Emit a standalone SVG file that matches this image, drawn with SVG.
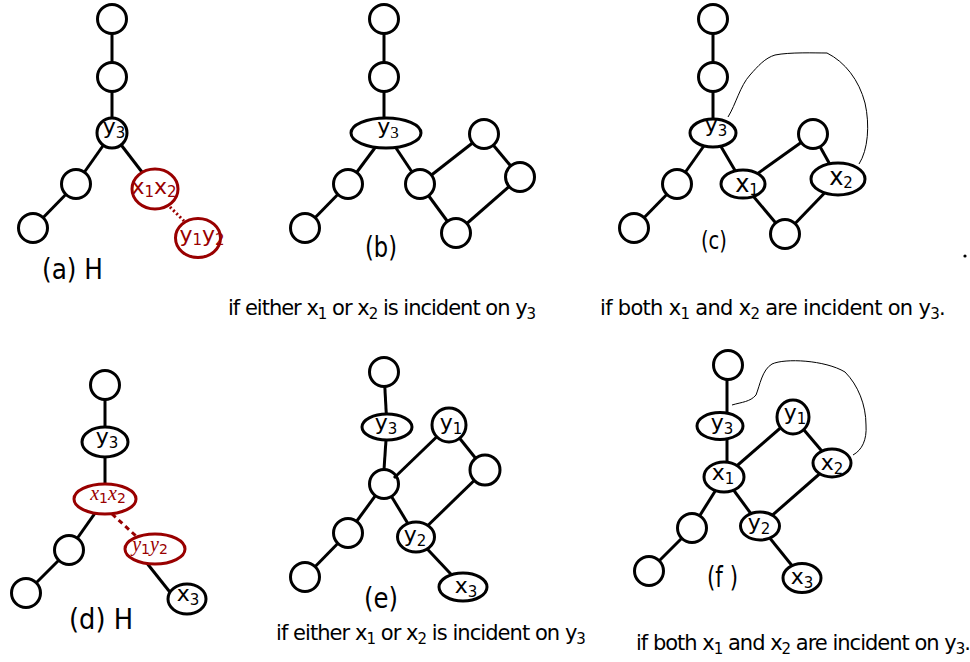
<svg xmlns="http://www.w3.org/2000/svg" width="970" height="662" viewBox="0 0 970 662">
<style>
.n{fill:#fff;stroke:#000;stroke-width:3}
.nn{fill:none;stroke:#000;stroke-width:3}
.r{fill:#fff;stroke:#900;stroke-width:3}
.e{stroke:#000;stroke-width:3;fill:none}
.c{stroke:#000;stroke-width:1;fill:none}
.rd{stroke:#900;stroke-width:3;fill:none}
.t{font-family:"DejaVu Sans",sans-serif;font-size:22px;text-anchor:middle;fill:#000}
.tr{fill:#900}
.m{font-family:"Liberation Serif",serif;font-style:italic;font-size:20px;text-anchor:middle;fill:#900}
.s{font-size:15px}
.ms{font-family:"DejaVu Sans",sans-serif;font-style:normal;font-size:14px}
.p{font-family:"DejaVu Sans",sans-serif;font-size:28px;fill:#000}
.cap{font-family:"DejaVu Sans",sans-serif;font-size:21px;fill:#000}
.cs{font-size:15px}
</style>
<g id="connectors">
<line class="e" x1="112" y1="19" x2="112" y2="77"/>
<line class="e" x1="112" y1="77" x2="112" y2="133"/>
<line class="e" x1="112" y1="133" x2="76" y2="184"/>
<line class="e" x1="76" y1="184" x2="33" y2="228"/>
<line class="e" x1="112" y1="133" x2="155" y2="189"/>
<line class="rd" x1="170" y1="207" x2="184" y2="221" stroke-dasharray="2 2.5"/>
<line class="e" x1="384" y1="19" x2="384" y2="133"/>
<line class="e" x1="386" y1="133" x2="348" y2="184"/>
<line class="e" x1="348" y1="184" x2="305" y2="228"/>
<line class="e" x1="386" y1="133" x2="420" y2="184"/>
<line class="e" x1="420" y1="184" x2="484" y2="134"/>
<line class="e" x1="484" y1="134" x2="520" y2="177"/>
<line class="e" x1="520" y1="177" x2="456" y2="233"/>
<line class="e" x1="456" y1="233" x2="420" y2="184"/>
<line class="e" x1="713" y1="19" x2="713" y2="133"/>
<line class="e" x1="713" y1="133" x2="677" y2="184"/>
<line class="e" x1="677" y1="184" x2="634" y2="228"/>
<line class="e" x1="713" y1="133" x2="743" y2="184"/>
<line class="e" x1="743" y1="184" x2="813" y2="134"/>
<line class="e" x1="813" y1="134" x2="838" y2="179"/>
<line class="e" x1="838" y1="179" x2="785" y2="234"/>
<line class="e" x1="785" y1="234" x2="743" y2="184"/>
<path class="c" d="M728,117 C736,104 740,86 750,75 C758,66 765,58 775,55 C790,52 815,53 827,53 C845,62 859,80 865,103 C870,125 868,150 859,164"/>
<line class="e" x1="105" y1="385" x2="105" y2="499"/>
<line class="e" x1="105" y1="499" x2="69" y2="550"/>
<line class="e" x1="69" y1="550" x2="26" y2="593"/>
<line class="rd" x1="112" y1="514" x2="136" y2="536" stroke-dasharray="5 4"/>
<line class="e" x1="146" y1="562" x2="173" y2="596"/>
<line class="e" x1="384" y1="372" x2="387" y2="427"/>
<line class="e" x1="386" y1="440" x2="384" y2="469.5"/>
<line class="e" x1="394" y1="478" x2="449" y2="425"/>
<line class="e" x1="375.4" y1="495.7" x2="348" y2="533"/>
<line class="e" x1="348" y1="533" x2="305" y2="577"/>
<line class="e" x1="391.5" y1="496.4" x2="416" y2="537"/>
<line class="e" x1="449" y1="425" x2="485" y2="470"/>
<line class="e" x1="485" y1="470" x2="416" y2="537"/>
<line class="e" x1="416" y1="537" x2="463" y2="587"/>
<line class="e" x1="727" y1="365" x2="727" y2="477"/>
<line class="e" x1="724" y1="477" x2="793" y2="417"/>
<line class="e" x1="724" y1="477" x2="692" y2="528"/>
<line class="e" x1="692" y1="528" x2="649" y2="571"/>
<line class="e" x1="724" y1="477" x2="760" y2="526"/>
<line class="e" x1="793" y1="417" x2="832" y2="463"/>
<line class="e" x1="832" y1="463" x2="760" y2="526"/>
<line class="e" x1="760" y1="526" x2="802" y2="578"/>
<path class="c" d="M732,405 C742,402 750,402 756,395 C760,385 762,370 772,364 C785,358 825,360 845,372 C858,385 866,405 866,425 C867,440 862,450 853,455"/>
</g>
<g id="a1"><circle class="n" cx="112" cy="19" r="14.5"/></g>
<g id="a2"><circle class="n" cx="112" cy="77" r="14.5"/></g>
<g id="a-y3"><circle class="n" cx="112" cy="133" r="15"/><text class="t" x="114" y="134">y<tspan class="s" dy="4">3</tspan></text></g>
<g id="a-l"><circle class="n" cx="76" cy="184" r="14.5"/></g>
<g id="a-bl"><circle class="n" cx="33" cy="228" r="14.5"/></g>
<g id="a-x1x2"><ellipse class="r" cx="155" cy="189" rx="23" ry="20"/><text class="t tr" x="154" y="194">x<tspan class="s" dy="3">1</tspan><tspan dy="-3">x</tspan><tspan class="s" dy="3">2</tspan></text></g>
<g id="a-y1y2"><ellipse class="r" cx="198" cy="238" rx="22.5" ry="19.5"/><text class="t tr" x="202" y="242">y<tspan class="s" dy="3">1</tspan><tspan dy="-3">y</tspan><tspan class="s" dy="3">2</tspan></text></g>
<text class="p" x="42" y="279" textLength="61" lengthAdjust="spacingAndGlyphs">(a) H</text>
<g id="b1"><circle class="n" cx="384" cy="19" r="14.5"/></g>
<g id="b2"><circle class="n" cx="384" cy="77" r="14.5"/></g>
<g id="b-y3"><ellipse class="n" cx="386" cy="133" rx="35" ry="15"/><text class="t" x="388" y="134">y<tspan class="s" dy="4" style="font-family:'Liberation Serif',serif;font-size:17px">3</tspan></text></g>
<g id="b-l"><circle class="n" cx="348" cy="184" r="14.5"/></g>
<g id="b-bl"><circle class="n" cx="305" cy="228" r="14.5"/></g>
<g id="b-x"><circle class="n" cx="420" cy="184" r="14.5"/></g>
<g id="b-tr"><circle class="n" cx="484" cy="134" r="14.5"/></g>
<g id="b-r"><circle class="n" cx="520" cy="177" r="14.5"/></g>
<g id="b-b"><circle class="n" cx="456" cy="233" r="14.5"/></g>
<text class="p" x="365" y="257" textLength="32" lengthAdjust="spacingAndGlyphs">(b)</text>
<g id="c1"><circle class="n" cx="713" cy="19" r="14.5"/></g>
<g id="c2"><circle class="n" cx="713" cy="77" r="14.5"/></g>
<g id="c-y3"><ellipse class="n" cx="713" cy="133" rx="23" ry="14"/><text class="t" x="716" y="132">y<tspan class="s" dy="4">3</tspan></text></g>
<g id="c-l"><circle class="n" cx="677" cy="184" r="14.5"/></g>
<g id="c-bl"><circle class="n" cx="634" cy="228" r="14.5"/></g>
<g id="c-x1"><ellipse class="n" cx="743" cy="184" rx="22" ry="14"/><text class="t" x="747" y="192" style="font-size:24px">x<tspan class="s" dy="3">1</tspan></text></g>
<g id="c-t"><circle class="n" cx="813" cy="134" r="14.5"/></g>
<g id="c-x2"><ellipse class="n" cx="838" cy="179" rx="27" ry="16"/><text class="t" x="841" y="185" style="font-size:24px">x<tspan class="s" dy="3">2</tspan></text></g>
<g id="c-b"><circle class="n" cx="785" cy="234" r="14.5"/></g>
<text class="p" x="701" y="249" textLength="26" lengthAdjust="spacingAndGlyphs" style="font-size:25px">(c)</text>
<circle cx="965" cy="256" r="1.6" fill="#000"/>
<text class="cap" x="228" y="315" letter-spacing="-1">if either x<tspan class="cs" dy="4">1</tspan><tspan dy="-4"> or x</tspan><tspan class="cs" dy="4">2</tspan><tspan dy="-4"> is incident on y</tspan><tspan class="cs" dy="4">3</tspan></text>
<text class="cap" x="600" y="315" letter-spacing="-0.7">if both x<tspan class="cs" dy="4">1</tspan><tspan dy="-4"> and x</tspan><tspan class="cs" dy="4">2</tspan><tspan dy="-4"> are incident on y</tspan><tspan class="cs" dy="4">3</tspan><tspan dy="-4">.</tspan></text>
<g id="d1"><circle class="n" cx="105" cy="385" r="14.5"/></g>
<g id="d-y3"><ellipse class="n" cx="105" cy="442" rx="23" ry="15"/><text class="t" x="107" y="444">y<tspan class="s" dy="4">3</tspan></text></g>
<g id="d-x1x2"><ellipse class="r" cx="105" cy="499" rx="31" ry="15"/><text class="m" x="108" y="500">x<tspan class="ms" dy="3">1</tspan><tspan dy="-3">x</tspan><tspan class="ms" dy="3">2</tspan></text></g>
<g id="d-l"><circle class="n" cx="69" cy="550" r="14.5"/></g>
<g id="d-bl"><circle class="n" cx="26" cy="593" r="14.5"/></g>
<g id="d-y1y2"><ellipse class="r" cx="155" cy="549" rx="30" ry="15"/><text class="m" x="150" y="551">y<tspan class="ms" dy="3">1</tspan><tspan dy="-3">y</tspan><tspan class="ms" dy="3">2</tspan></text></g>
<g id="d-x3"><ellipse class="n" cx="187" cy="599" rx="19" ry="15"/><text class="t" x="188" y="601">x<tspan class="s" dy="4">3</tspan></text></g>
<text class="p" x="69" y="629" textLength="64" lengthAdjust="spacingAndGlyphs">(d) H</text>
<g id="e1"><circle class="n" cx="384" cy="372" r="14.5"/></g>
<g id="e-y3"><ellipse class="n" cx="387" cy="427" rx="25" ry="13"/><text class="t" x="386" y="430">y<tspan class="s" dy="4">3</tspan></text></g>
<g id="e-c"><circle class="nn" cx="384" cy="484" r="14.5"/></g>
<g id="e-y1"><circle class="n" cx="449" cy="425" r="17"/><text class="t" x="451" y="430">y<tspan class="s" dy="4">1</tspan></text></g>
<g id="e-r"><circle class="n" cx="485" cy="470" r="15"/></g>
<g id="e-l"><circle class="n" cx="348" cy="533" r="14.5"/></g>
<g id="e-bl"><circle class="n" cx="305" cy="577" r="14.5"/></g>
<g id="e-y2"><ellipse class="n" cx="416" cy="537" rx="18.5" ry="15"/><text class="t" x="415" y="542">y<tspan class="s" dy="4">2</tspan></text></g>
<g id="e-x3"><ellipse class="n" cx="463" cy="587" rx="24" ry="14"/><text class="t" x="466" y="593">x<tspan class="s" dy="4">3</tspan></text></g>
<text class="p" x="364" y="608" textLength="34" lengthAdjust="spacingAndGlyphs">(e)</text>
<text class="cap" x="276" y="640" letter-spacing="-0.95">if either x<tspan class="cs" dy="4">1</tspan><tspan dy="-4"> or x</tspan><tspan class="cs" dy="4">2</tspan><tspan dy="-4"> is incident on y</tspan><tspan class="cs" dy="4">3</tspan></text>
<g id="f1"><circle class="n" cx="728" cy="365" r="14.5"/></g>
<g id="f-y3"><ellipse class="n" cx="720" cy="426" rx="23" ry="13.5"/><text class="t" x="722" y="430">y<tspan class="s" dy="4">3</tspan></text></g>
<g id="f-x1"><ellipse class="n" cx="724" cy="477" rx="20" ry="15"/><text class="t" x="723" y="480">x<tspan class="s" dy="4">1</tspan></text></g>
<g id="f-y1"><ellipse class="n" cx="793" cy="417" rx="16" ry="17"/><text class="t" x="795" y="420">y<tspan class="s" dy="4">1</tspan></text></g>
<g id="f-x2"><ellipse class="n" cx="832" cy="463" rx="19" ry="14"/><text class="t" x="832" y="470">x<tspan class="s" dy="4">2</tspan></text></g>
<g id="f-l"><circle class="n" cx="692" cy="528" r="14.5"/></g>
<g id="f-bl"><circle class="n" cx="649" cy="571" r="14.5"/></g>
<g id="f-y2"><ellipse class="n" cx="760" cy="526" rx="19.5" ry="14"/><text class="t" x="759" y="530">y<tspan class="s" dy="4">2</tspan></text></g>
<g id="f-x3"><ellipse class="n" cx="802" cy="578" rx="19" ry="14.5"/><text class="t" x="802" y="584">x<tspan class="s" dy="4">3</tspan></text></g>
<text class="p" x="707" y="587" textLength="31" lengthAdjust="spacingAndGlyphs">(f )</text>
<text class="cap" x="636" y="650" letter-spacing="-1">if both x<tspan class="cs" dy="4">1</tspan><tspan dy="-4"> and x</tspan><tspan class="cs" dy="4">2</tspan><tspan dy="-4"> are incident on y</tspan><tspan class="cs" dy="4">3</tspan><tspan dy="-4">.</tspan></text>
</svg>
